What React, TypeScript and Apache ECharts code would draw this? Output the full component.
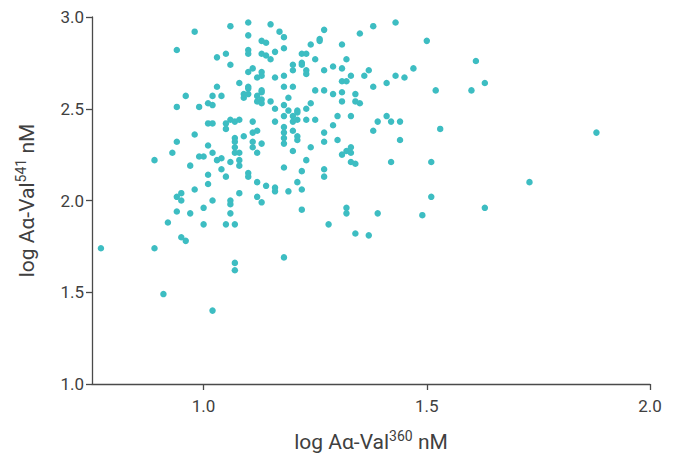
import React, { useEffect, useRef } from "react";
import * as echarts from "echarts";

const xValues = [
  0.98, 0.94, 1.03, 1.03, 0.96, 1.02, 1.01, 1.02, 0.94, 0.99,
  1.06, 1.10, 1.15, 1.17, 1.18, 1.10, 1.13, 1.14, 1.27, 1.26,
  1.26, 1.24, 1.31, 1.05, 1.10, 1.10, 1.13, 1.14, 1.15, 1.16,
  1.18, 1.22, 1.23, 1.25, 1.32, 1.06, 1.20, 1.20, 1.22, 1.22,
  1.23, 1.23, 1.29, 1.31, 1.27, 1.10, 1.11, 1.13, 1.13, 1.12,
  1.16, 1.18, 1.08, 1.10, 1.10, 1.13, 1.13, 1.18, 1.20, 1.31,
  1.32, 1.33, 1.04, 1.09, 1.09, 1.10, 1.12, 1.12, 1.13, 1.13,
  1.15, 1.19, 1.25, 1.27, 1.29, 1.31, 1.31, 1.24, 1.18, 1.16,
  1.19, 1.21, 1.21, 1.23, 1.35, 1.38, 1.43, 1.50, 1.61, 1.63,
  1.36, 1.37, 1.43, 1.45, 1.47, 1.41, 1.38, 1.52, 1.60, 1.34,
  1.34, 1.35, 1.53, 1.88, 1.51, 1.73, 1.51, 1.63, 1.49, 1.01,
  1.02, 0.98, 0.94, 1.01, 0.93, 1.02, 0.99, 1.00, 1.03, 0.89,
  0.97, 1.04, 1.01, 1.01, 0.98, 0.95, 0.94, 0.95, 1.02, 1.00,
  0.94, 0.97, 1.06, 1.05, 1.05, 1.07, 1.08, 1.11, 1.16, 1.18,
  1.20, 1.20, 1.21, 1.23, 1.25, 1.30, 1.33, 1.12, 1.11, 1.09,
  1.07, 1.07, 1.11, 1.13, 1.07, 1.11, 1.07, 1.08, 1.12, 1.18,
  1.18, 1.18, 1.18, 1.20, 1.21, 1.21, 1.20, 1.24, 1.27, 1.27,
  1.29, 1.30, 1.32, 1.31, 1.33, 1.33, 1.04, 1.06, 1.08, 1.08,
  1.05, 1.10, 1.10, 1.18, 1.23, 1.22, 1.27, 1.27, 1.12, 1.14,
  1.16, 1.16, 1.19, 1.21, 1.22, 1.08, 1.12, 1.13, 1.06, 1.06,
  1.06, 1.22, 1.32, 1.32, 1.39, 1.41, 1.42, 1.44, 1.38, 1.44,
  1.33, 1.34, 1.42, 1.39, 0.77, 0.92, 1.00, 0.95, 0.96, 0.89,
  0.91, 1.02, 1.05, 1.07, 1.28, 1.18, 1.07, 1.07, 1.34, 1.37,
];

const yValues = [
  2.92, 2.82, 2.78, 2.62, 2.57, 2.57, 2.53, 2.52, 2.51, 2.51,
  2.95, 2.97, 2.96, 2.92, 2.89, 2.90, 2.87, 2.86, 2.93, 2.88,
  2.87, 2.85, 2.85, 2.80, 2.82, 2.80, 2.80, 2.79, 2.77, 2.81,
  2.83, 2.80, 2.80, 2.77, 2.77, 2.74, 2.74, 2.71, 2.75, 2.74,
  2.71, 2.69, 2.73, 2.72, 2.71, 2.70, 2.72, 2.70, 2.68, 2.67,
  2.67, 2.68, 2.64, 2.62, 2.61, 2.60, 2.59, 2.62, 2.62, 2.65,
  2.65, 2.68, 2.57, 2.58, 2.56, 2.58, 2.57, 2.54, 2.55, 2.53,
  2.54, 2.56, 2.60, 2.60, 2.58, 2.59, 2.54, 2.53, 2.52, 2.50,
  2.49, 2.49, 2.48, 2.50, 2.91, 2.95, 2.97, 2.87, 2.76, 2.64,
  2.68, 2.71, 2.68, 2.67, 2.72, 2.64, 2.62, 2.60, 2.60, 2.58,
  2.54, 2.53, 2.39, 2.37, 2.21, 2.10, 2.02, 1.96, 1.92, 2.42,
  2.42, 2.36, 2.32, 2.30, 2.26, 2.26, 2.24, 2.24, 2.22, 2.22,
  2.19, 2.17, 2.14, 2.09, 2.06, 2.04, 2.02, 2.00, 2.00, 1.96,
  1.94, 1.93, 2.44, 2.42, 2.39, 2.43, 2.44, 2.43, 2.43, 2.46,
  2.46, 2.43, 2.44, 2.44, 2.44, 2.46, 2.46, 2.38, 2.37, 2.35,
  2.34, 2.32, 2.32, 2.31, 2.29, 2.29, 2.26, 2.26, 2.26, 2.40,
  2.37, 2.34, 2.31, 2.38, 2.35, 2.33, 2.27, 2.29, 2.37, 2.32,
  2.41, 2.33, 2.27, 2.25, 2.26, 2.21, 2.23, 2.21, 2.22, 2.19,
  2.13, 2.15, 2.13, 2.18, 2.22, 2.16, 2.17, 2.13, 2.10, 2.08,
  2.07, 2.05, 2.05, 2.10, 2.06, 2.04, 2.02, 1.99, 2.00, 1.98,
  1.93, 1.95, 1.96, 1.93, 2.43, 2.46, 2.43, 2.43, 2.38, 2.33,
  2.29, 2.20, 2.21, 1.93, 1.74, 1.88, 1.87, 1.80, 1.78, 1.74,
  1.49, 1.40, 1.87, 1.87, 1.87, 1.69, 1.66, 1.62, 1.82, 1.81,
];

const xTicks = [1.0, 1.5, 2.0];
const yTicks = [1.0, 1.5, 2.0, 2.5, 3.0];

const textColor = "#404040";
const axisColor = "#4a4a4a";
const dotColor = "#3dbdc2";
const font = "Roboto, 'DejaVu Sans', sans-serif";

const nameRich = {
  a: { fontSize: 21, color: textColor, fontFamily: font, lineHeight: 25 },
  s: { fontSize: 14, color: textColor, fontFamily: font, verticalAlign: "top", lineHeight: 16 },
};

export default function App() {
  const ref = useRef<HTMLDivElement>(null);

  useEffect(() => {
    document.body.style.margin = "0";
    if (!ref.current) return;
    const chart = echarts.init(ref.current, undefined, { renderer: "svg" });
    const data = xValues.map((x, i) => [x, yValues[i]]);
    chart.setOption({
      animation: false,
      backgroundColor: "#ffffff",
      grid: { left: 92, right: 28, top: 17, bottom: 71 },
      xAxis: {
        type: "value",
        min: 0.75,
        max: 2.0,
        name: "{a|log Aα-Val}{s|360}{a| nM}",
        nameLocation: "middle",
        nameGap: 45,
        nameTextStyle: { rich: nameRich },
        axisLine: { show: true, lineStyle: { color: axisColor, width: 1.3 } },
        axisTick: { show: true, length: 6, customValues: xTicks, lineStyle: { color: axisColor, width: 1.3 } },
        axisLabel: {
          customValues: xTicks,
          formatter: (v: number) => v.toFixed(1),
          fontSize: 17,
          color: textColor,
          fontFamily: font,
          margin: 13,
        },
        splitLine: { show: false },
      },
      yAxis: {
        type: "value",
        min: 1.0,
        max: 3.0,
        interval: 0.5,
        name: "{a|log Aα-Val}{s|541}{a| nM}",
        nameLocation: "middle",
        nameGap: 53,
        nameRotate: 90,
        nameTextStyle: { rich: nameRich },
        axisLine: { show: true, lineStyle: { color: axisColor, width: 1.3 } },
        axisTick: { show: true, length: 6, lineStyle: { color: axisColor, width: 1.3 } },
        axisLabel: {
          formatter: (v: number) => v.toFixed(1),
          fontSize: 17,
          color: textColor,
          fontFamily: font,
          margin: 8,
          customValues: yTicks,
        },
        splitLine: { show: false },
      },
      series: [
        {
          type: "scatter",
          data,
          symbolSize: 6.5,
          itemStyle: { color: dotColor, opacity: 1 },
        },
      ],
    });
    return () => chart.dispose();
  }, []);

  return <div ref={ref} style={{ width: 678, height: 457 }} />;
}
